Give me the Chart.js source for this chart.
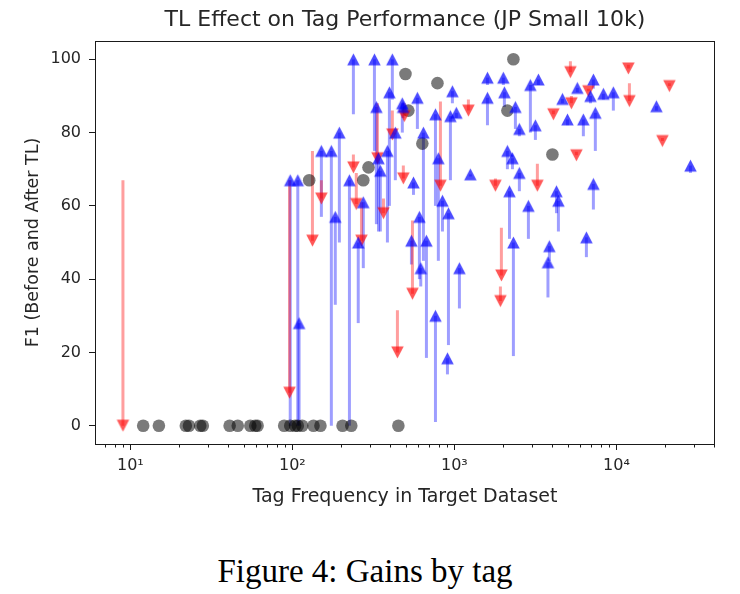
<!DOCTYPE html>
<html>
<head>
<meta charset="utf-8">
<script src="https://cdn.jsdelivr.net/npm/chart.js@4.4.1/dist/chart.umd.min.js"></script>
<style>
html,body{margin:0;padding:0;background:#fff;}
#wrap{position:relative;width:740px;height:594px;overflow:hidden;}
#c{position:absolute;left:0;top:0;}
#cap{position:absolute;left:0;width:730px;top:552px;line-height:38px;text-align:center;
 font-family:"Liberation Serif","Times New Roman",serif;font-size:33px;color:#000;}
</style>
</head>
<body>
<div id="wrap">
<canvas id="c" width="740" height="530"></canvas>
<div id="cap">Figure 4: Gains by tag</div>
</div>
<script>
// ---- data ----
// tags whose F1 improved after TL (blue, arrow up)
const gainFreq   = [97,108,110,151,174,184,195,225,238,255,274,321,330,340,349,386,397,414,432,477,482,543,559,591,608,620,644,672,764,764,796,844,906,919,945,972,1028,1074,1255,1600,1600,2005,2035,2124,2188,2282,2313,2380,2518,2518,2863,2944,3162,3300,3780,3857,4266,4385,4645,4989,5741,6252,6527,6914,7209,7209,7413,8310,9575,17660,28640];
const gainBefore = [0,0,0,57,0,33,50,0,85,28,43,75,55,53,53,50,60,89,67,80,84,44,63,81,40,38,45,18.5,1,60,45,53,14,22,67,88,84,32,68,93,82,93,87,70,51,70,19,81,79,64,51,80,78,93,35,45,58,53,88,82,91,79,46,88,92,59,75,89,86,86,69];
const gainAfter  = [67,67,28,75,75,57,80,67,100,50,61,100,87,73,69.6,75,91,100,80,88,87,50.5,66.4,89.5,57,43,80,50.5,30,85,73,61.4,18.4,58,84.5,91.3,85.4,43,68.6,95,89.5,95,91,75,64,73,50,87,81,69,60,93,82,94.5,44.6,49,64,61.4,89.2,83.6,92.2,83.6,51.4,90,94.5,66,85.4,90.6,91,87.2,71];
// tags whose F1 dropped after TL (red, arrow down)
const lossFreq   = [9,96,133,151,238,248,267,335,365,414,445,484,491,551,820,1220,1792,1923,1950,3252,4083,5200,5275,5663,6714,11850,12030,19230,21240];
const lossBefore = [67,67,75,67,74,69,61,88,62,86,31.5,71,88,56,88.5,89,67.5,38,54,71.5,86,99.5,90,74.8,92,98.5,93.5,78.5,93.5];
const lossAfter  = [0,9,50.5,62,70.5,60.5,50.5,73,58,79.5,20,67.5,84.5,36,65.5,86,65.5,34,41,65.5,85,96.5,88,73.8,91.3,97.5,88.6,77.7,92.7];
// tags with unchanged F1 (grey circles)
const flatFreq   = [12,15,22,23,27,28,41,46,55,59,61,89,97,104,108,115,135,149,204,231,451,127,274,295,499,520,634,786,2124,2313,4027];
const flatF1     = [0,0,0,0,0,0,0,0,0,0,0,0,0,0,0,0,0,0,0,0,0,67,67,70.5,96,86,77,93.5,86,100,74];
// axis ticks
const xTickValues = [10,100,1000,10000];
const xTickLabels = ['10\u00B9','10\u00B2','10\u00B3','10\u2074'];
const yTickValues = [0,20,40,60,80,100];

// ---- styles ----
const FONT = '"DejaVu Sans", Verdana, sans-serif';
const TXT = '#262626';
const BLUE_LINE = 'rgba(0,0,255,0.38)';
const RED_LINE = 'rgba(255,0,0,0.38)';

function triangle(up, color) {
  const c = document.createElement('canvas');
  c.width = 15; c.height = 15;
  const g = c.getContext('2d');
  g.fillStyle = color;
  g.beginPath();
  if (up) { g.moveTo(7.5, 1.5); g.lineTo(13.75, 13.5); g.lineTo(1.25, 13.5); }
  else    { g.moveTo(7.5, 13.5); g.lineTo(13.75, 1.5); g.lineTo(1.25, 1.5); }
  g.closePath(); g.fill();
  return c;
}
const triUp = triangle(true, 'rgba(0,0,255,0.7)');
const triDown = triangle(false, 'rgba(255,0,0,0.66)');

// ---- datasets ----
const datasets = [];
// markers first (drawn on top)
datasets.push({
  label: 'gain', data: gainFreq.map((f, i) => ({x: f, y: gainAfter[i]})),
  pointStyle: triUp, pointRadius: 7, pointHoverRadius: 7, showLine: false
});
datasets.push({
  label: 'loss', data: lossFreq.map((f, i) => ({x: f, y: lossAfter[i]})),
  pointStyle: triDown, pointRadius: 7, pointHoverRadius: 7, showLine: false
});
datasets.push({
  label: 'same', data: flatFreq.map((f, i) => ({x: f, y: flatF1[i]})),
  pointStyle: 'circle', pointRadius: 6.3, pointHoverRadius: 6.3, borderWidth: 0,
  backgroundColor: 'rgba(0,0,0,0.52)', showLine: false
});
// one line per tag: before -> after
lossFreq.forEach((f, i) => {
  datasets.push({
    data: [{x: f, y: lossBefore[i]}, {x: f, y: lossAfter[i]}],
    showLine: true, borderColor: RED_LINE, borderWidth: 3, pointRadius: 0, pointHoverRadius: 0,
    borderCapStyle: 'butt'
  });
});
gainFreq.forEach((f, i) => {
  datasets.push({
    data: [{x: f, y: gainBefore[i]}, {x: f, y: gainAfter[i]}],
    showLine: true, borderColor: BLUE_LINE, borderWidth: 3, pointRadius: 0, pointHoverRadius: 0,
    borderCapStyle: 'butt'
  });
});

const LEFT = 95, RIGHT = 715, TOP = 41, BOTTOM = 444, H = 530;

const framePlugin = {
  id: 'frame',
  afterLayout(chart) {
    const t = chart.titleBlock, a = chart.chartArea;
    if (t) { t.left = a.left; t.right = a.right; }
  },
  afterDraw(chart) {
    const {ctx, chartArea: a} = chart;
    const xs = chart.scales.x;
    ctx.save();
    ctx.strokeStyle = '#1a1a1a';
    ctx.lineWidth = 1;
    ctx.strokeRect(Math.round(a.left) + 0.5, Math.round(a.top) + 0.5,
                   Math.round(a.right - a.left) - 1, Math.round(a.bottom - a.top));
    // minor ticks of the log axis
    ctx.beginPath();
    for (let d = 0; d <= 4; d++) {
      for (let m = 2; m <= 9; m++) {
        const v = m * Math.pow(10, d);
        if (v < xs.min || v > xs.max) continue;
        const px = Math.round(xs.getPixelForValue(v)) + 0.5;
        ctx.moveTo(px, a.bottom);
        ctx.lineTo(px, a.bottom + 3.5);
      }
    }
    ctx.stroke();
    ctx.restore();
  }
};

new Chart(document.getElementById('c'), {
  type: 'scatter',
  data: {datasets},
  plugins: [framePlugin],
  options: {
    responsive: false,
    animation: false,
    events: [],
    layout: {padding: {left: 0, right: 740 - RIGHT, top: 0, bottom: 0}},
    plugins: {
      legend: {display: false},
      tooltip: {enabled: false},
      title: {
        display: true, text: 'TL Effect on Tag Performance (JP Small 10k)',
        color: TXT, font: {family: FONT, size: 22, weight: 'normal', lineHeight: 1.2},
        padding: {top: 6.8, bottom: 7.8}
      }
    },
    scales: {
      x: {
        type: 'logarithmic', position: 'bottom', min: 6.05, max: 40600,
        afterBuildTicks: s => { s.ticks = xTickValues.map(v => ({value: v})); },
        afterFit: s => { s.height = H - BOTTOM; },
        border: {display: false},
        grid: {display: true, drawOnChartArea: false, drawTicks: true, tickLength: 6, tickColor: '#1a1a1a', tickWidth: 1},
        ticks: {
          autoSkip: false, maxRotation: 0, minRotation: 0, padding: 6.4, color: TXT,
          font: {family: FONT, size: 16, lineHeight: 1.2},
          callback: v => { const k = xTickValues.indexOf(v); return k >= 0 ? xTickLabels[k] : ''; }
        },
        title: {display: true, text: 'Tag Frequency in Target Dataset', color: TXT,
          font: {family: FONT, size: 19, lineHeight: 1.2}, padding: {top: 0, bottom: 21.6}}
      },
      y: {
        type: 'linear', position: 'left', min: -5, max: 105,
        afterBuildTicks: s => { s.ticks = yTickValues.map(v => ({value: v})); },
        afterFit: s => { s.width = LEFT; },
        border: {display: false},
        grid: {display: true, drawOnChartArea: false, drawTicks: true, tickLength: 6, tickColor: '#1a1a1a', tickWidth: 1},
        ticks: {padding: 8, color: TXT, font: {family: FONT, size: 16, lineHeight: 1.2},
          callback: v => String(v)},
        title: {display: true, text: 'F1 (Before and After TL)', color: TXT,
          font: {family: FONT, size: 17.5, lineHeight: 1.2}, padding: {top: 22.5, bottom: 0}}
      }
    }
  }
});
</script>
</body>
</html>
